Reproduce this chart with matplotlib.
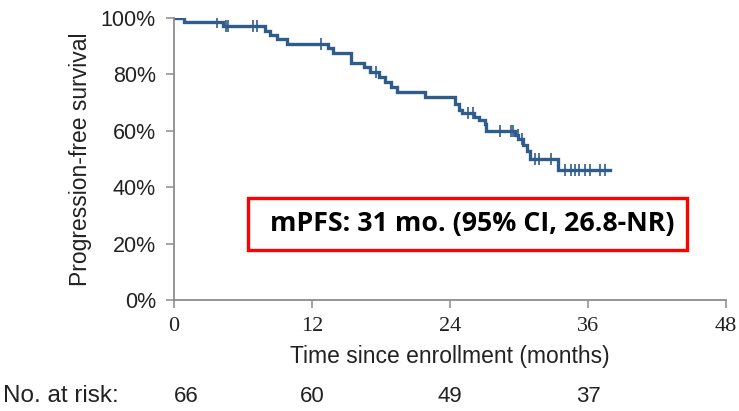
import numpy as np
import matplotlib
matplotlib.use("Agg")
import matplotlib.pyplot as plt
from matplotlib.patches import Rectangle

# ---- data ----
event_times = [0.87, 4.29, 7.9, 8.35, 8.93, 9.8, 13.4, 13.8, 15.4, 16.5, 17.0,
               17.85, 18.35, 18.9, 19.4, 21.8, 24.4, 24.75, 25.0, 26.1, 26.5,
               27.0, 27.15, 29.65, 29.95, 30.37, 30.67, 30.96, 33.4]
surv_after = [98.5, 97.0, 95.5, 94.0, 92.4, 90.9, 89.3, 87.7, 84.2, 82.5, 80.9,
              79.1, 77.3, 75.6, 73.8, 72.1, 69.6, 67.5, 66.3, 65.0, 63.7,
              62.4, 59.8, 58.5, 57.2, 55.0, 52.8, 50.0, 46.1]
censor_times = [3.77, 4.52, 4.70, 6.9, 7.24, 12.8, 17.6, 25.6, 26.0, 28.35,
                29.3, 29.45, 29.9, 30.26, 31.4, 31.77, 32.8, 34.0, 34.5, 34.9,
                35.2, 35.7, 36.2, 37.0, 37.5]
end_time = 37.9

x_ticks = [0, 12, 24, 36, 48]
y_ticks = [0, 20, 40, 60, 80, 100]
risk_times = [0, 12, 24, 36]
risk_counts = [66, 60, 49, 37]

line_color = "#2F5C8B"
grey = "#8C8C8C"
txt = "#222222"

fig = plt.figure(figsize=(7.39, 4.11), dpi=100)
ax = fig.add_axes([174/739, 1-300/411, 552/739, 282/411])

# step curve
t = np.concatenate([[0.0], event_times, [end_time]])
s = np.concatenate([[100.0], surv_after, [surv_after[-1]]])
ax.step(t, s, where="post", color=line_color, lw=2.4, solid_joinstyle="miter")

# censor marks
idx = np.searchsorted(np.array(event_times), np.array(censor_times), side="right")
s_levels = np.concatenate([[100.0], surv_after])
cens_y = s_levels[idx]
ax.plot(censor_times, cens_y, ls="none", marker="|", ms=8, mew=1.2, color=line_color)

ax.set_xlim(0, 48)
ax.set_ylim(0, 100)
ax.set_xticks(x_ticks)
ax.set_yticks(y_ticks)
ax.set_yticklabels([f"{v}%" for v in y_ticks], fontfamily="Liberation Sans", fontsize=15.5, color=txt)
ax.set_xticklabels([str(v) for v in x_ticks], fontfamily="Liberation Serif", fontsize=16, color=txt)

for sp in ["top", "right"]:
    ax.spines[sp].set_visible(False)
for sp in ["left", "bottom"]:
    ax.spines[sp].set_color(grey)
    ax.spines[sp].set_linewidth(1.3)
ax.tick_params(axis="both", direction="out", length=6, width=1.1, color=grey)
ax.tick_params(axis="y", pad=7)
ax.tick_params(axis="x", pad=6)

ax.set_ylabel("Progression-free survival", fontfamily="Liberation Sans", fontsize=16.5,
              color=txt, va="center")
ax.yaxis.set_label_coords(-0.170, 0.5)
ax.set_xlabel("Time since enrollment (months)", fontfamily="Liberation Sans", fontsize=16.5,
              color=txt, va="center")
ax.xaxis.set_label_coords(0.5, (300-356)/282)

# number at risk
fig.text(3/739, 1-396/411, "No. at risk:", fontfamily="Liberation Sans", fontsize=17.5,
         color=txt, va="center", ha="left")
tr = ax.get_xaxis_transform()
for i, (xt, n) in enumerate(zip(risk_times, risk_counts)):
    ax.text(xt, (300-396)/282, str(n), transform=tr, ha="left" if i == 0 else "center",
            va="center", fontfamily="Liberation Sans", fontsize=16, color=txt, clip_on=False)

# annotation box
fig.patches.append(Rectangle((248/739, 1-250/411), 439/739, 52/411, transform=fig.transFigure,
                             facecolor="white", edgecolor="#FF0000", lw=2.4, zorder=5))
fig.text((268+408/2)/739, 1-224/411, "mPFS: 31 mo. (95% CI, 26.8-NR)", ha="center", va="center",
         fontfamily="Open Sans", fontweight="bold", fontsize=19.3, color="black", zorder=6)

fig.savefig("out.png", dpi=100)
